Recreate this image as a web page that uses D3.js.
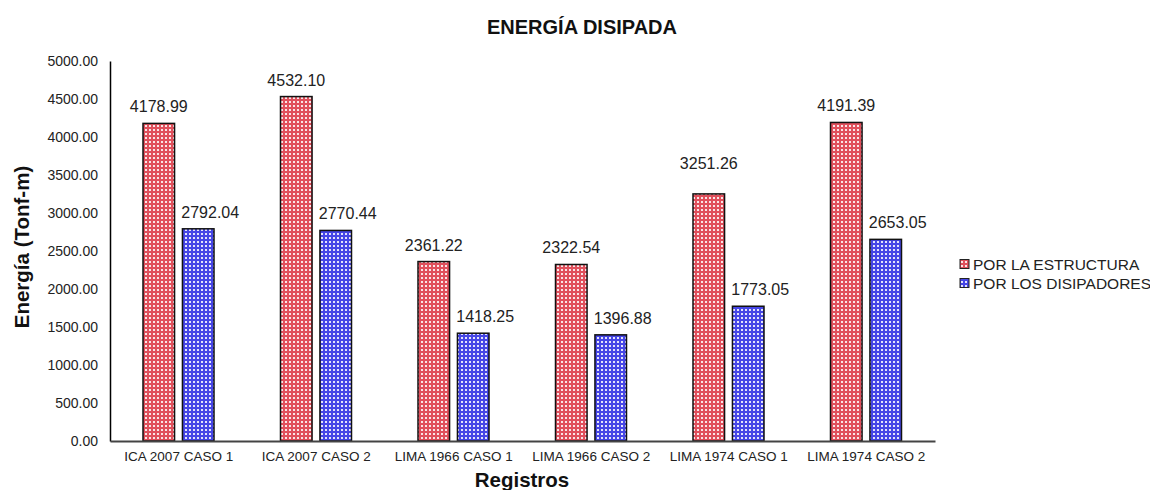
<!DOCTYPE html>
<html><head><meta charset="utf-8">
<script src="https://cdn.jsdelivr.net/npm/d3@7"></script>
<style>body{margin:0;background:#fff}svg{display:block;font-family:Arial,"Liberation Sans",sans-serif}</style>
</head><body>
<svg id="c" width="1150" height="490"></svg>
<script>
const categories = ["ICA 2007 CASO 1","ICA 2007 CASO 2","LIMA 1966 CASO 1","LIMA 1966 CASO 2","LIMA 1974 CASO 1","LIMA 1974 CASO 2"];
const seriesNames = ["POR LA ESTRUCTURA","POR LOS DISIPADORES"];
const estructura = [4178.99,4532.10,2361.22,2322.54,3251.26,4191.39];
const disipadores = [2792.04,2770.44,1418.25,1396.88,1773.05,2653.05];
const yTicks = [0,500,1000,1500,2000,2500,3000,3500,4000,4500,5000];
const title = "ENERGÍA DISIPADA";
const yTitle = "Energía (Tonf-m)";
const xTitle = "Registros";

const svg = d3.select("#c");
const defs = svg.append("defs");
function makePattern(id, color){
  const p = defs.append("pattern").attr("id",id).attr("patternUnits","userSpaceOnUse")
    .attr("width",4).attr("height",4);
  p.append("rect").attr("width",4).attr("height",4).attr("fill",color);
  p.append("rect").attr("x",1).attr("y",1).attr("width",2).attr("height",2).attr("fill","#fff").attr("opacity",0.85);
}
makePattern("pRed","#e0505c");
makePattern("pBlue","#4646e6");
const fills = ["url(#pRed)","url(#pBlue)"];

const x0 = d3.scaleBand().domain(categories).range([110,935]).paddingInner(0).paddingOuter(0);
const x1 = d3.scaleBand().domain(seriesNames).range([33,104]).paddingInner(0.2).paddingOuter(0);
const y = d3.scaleLinear().domain([0,5000]).range([441,61]);

// y axis
const yAxis = svg.append("g").attr("transform","translate(110,0)")
  .call(d3.axisLeft(y).tickValues(yTicks).tickFormat(d3.format(".2f")).tickSize(0).tickPadding(12));
yAxis.select(".domain").attr("stroke","#000").attr("stroke-width",1.5);
yAxis.selectAll("text").attr("font-size",14).attr("fill","#222").attr("font-family","Arial,'Liberation Sans',sans-serif");

// bars
const data = [estructura, disipadores];
const g = svg.append("g");
seriesNames.forEach((s,si)=>{
  g.selectAll(".b"+si).data(categories).enter().append("rect")
    .attr("x",c=>x0(c)+x1(s)).attr("width",x1.bandwidth())
    .attr("y",(c,i)=>y(data[si][i])).attr("height",(c,i)=>y(0)-y(data[si][i]))
    .attr("fill",fills[si]).attr("stroke","#111").attr("stroke-width",1.5);
});
// labels
const liftExtra = {"LIMA 1974 CASO 1":14};
seriesNames.forEach((s,si)=>{
  g.selectAll(".l"+si).data(categories).enter().append("text")
    .attr("x",c=>x0(c)+x1(s)+x1.bandwidth()/2 + (si===1?12:0))
    .attr("y",(c,i)=>y(data[si][i]) - 11 - (si===0 && liftExtra[c] ? liftExtra[c] : 0))
    .attr("text-anchor","middle").attr("font-size",16).attr("fill","#222")
    .text((c,i)=>data[si][i].toFixed(2));
});

// x axis
const xAxis = svg.append("g").attr("transform","translate(0,441)")
  .call(d3.axisBottom(x0).tickSize(0).tickPadding(10));
xAxis.select(".domain").attr("stroke","#444").attr("stroke-width",2);
xAxis.selectAll("text").attr("font-size",13.5).attr("fill","#222").attr("font-family","Arial,'Liberation Sans',sans-serif");

// titles
svg.append("text").attr("x",582).attr("y",34).attr("text-anchor","middle")
  .attr("font-size",20).attr("font-weight","bold").attr("fill","#111").text(title);
svg.append("text").attr("transform","translate(29,247) rotate(-90)").attr("text-anchor","middle")
  .attr("font-size",20.5).attr("font-weight","bold").attr("fill","#111").text(yTitle);
svg.append("text").attr("x",522).attr("y",487).attr("text-anchor","middle")
  .attr("font-size",20.5).attr("font-weight","bold").attr("fill","#111").text(xTitle);

// legend
const lg = svg.append("g").attr("transform","translate(960,0)");
seriesNames.forEach((s,i)=>{
  const cy = 264 + i*19;
  lg.append("rect").attr("x",0).attr("y",cy-4.5).attr("width",9).attr("height",9)
    .attr("fill",fills[i]).attr("stroke","#222").attr("stroke-width",1);
  lg.append("text").attr("x",13).attr("y",cy+5.5).attr("font-size",15.5).attr("fill","#222").text(s);
});
</script>
</body></html>
